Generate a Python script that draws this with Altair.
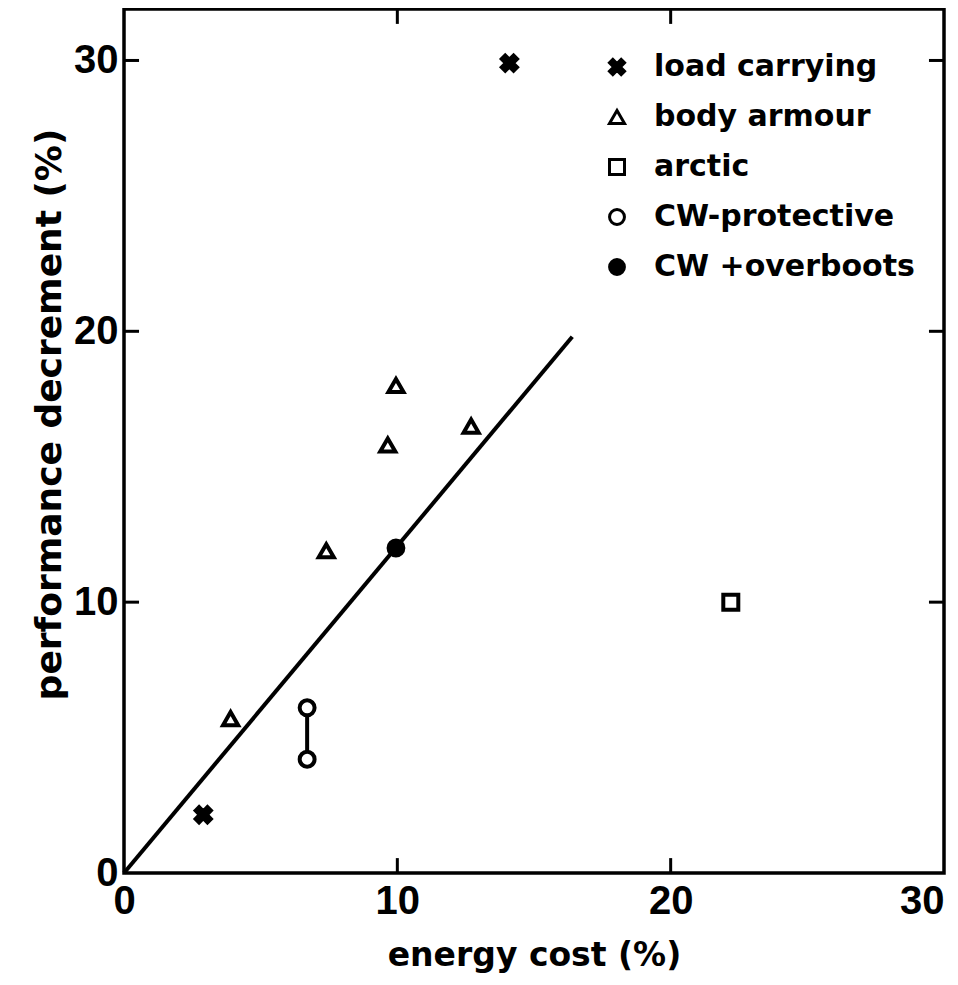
import altair as alt
import pandas as pd

# ---- data ----
categories = ["load carrying", "body armour", "arctic", "CW-protective", "CW +overboots"]

load_x = [2.9, 14.1]
load_y = [2.15, 29.9]
armour_x = [3.9, 7.4, 9.65, 9.95, 12.7]
armour_y = [5.7, 11.9, 15.8, 18.0, 16.5]
arctic_x = [22.2]
arctic_y = [10.0]
cw_x = [6.7, 6.7]
cw_y = [4.2, 6.1]
cwb_x = [9.95]
cwb_y = [12.0]

fit_x = [0.0, 16.4]
fit_y = [0.0, 19.8]

tick_values = [0, 10, 20, 30]
inner_ticks_x = [10, 20]
inner_ticks_y = [10, 20, 30]

X_MAX = 30
Y_MAX = 31.9
TL = 0.55  # inward tick length in data units

rows = []
for c, xs, ys in [
    (categories[0], load_x, load_y),
    (categories[1], armour_x, armour_y),
    (categories[2], arctic_x, arctic_y),
    (categories[3], cw_x, cw_y),
    (categories[4], cwb_x, cwb_y),
]:
    for a, b in zip(xs, ys):
        rows.append({"x": a, "y": b, "cond": c})
pts = pd.DataFrame(rows)

xs_ = alt.Scale(domain=[0, X_MAX], nice=False, zero=False)
ys_ = alt.Scale(domain=[0, Y_MAX], nice=False, zero=False)

FONT = "DejaVu Sans"
TFONT = "Liberation Sans"

star = "M-1,-0.55L-0.55,-1L0,-0.45L0.55,-1L1,-0.55L0.45,0L1,0.55L0.55,1L0,0.45L-0.55,1L-1,0.55L-0.45,0Z"

x_enc = alt.X("x:Q", scale=xs_, axis=alt.Axis(
    values=tick_values, title="energy cost (%)", ticks=False, domain=False, grid=False,
    labelFont=TFONT, labelFontSize=40, labelFontWeight="bold", labelColor="black",
    labelPadding=8, labelFlush=False,
    labelAlign={"expr": "datum.value == 30 ? 'right' : 'center'"},
    titleFont=FONT, titleFontSize=33, titleFontWeight="bold", titleColor="black",
    titleY=92, titleBaseline="alphabetic"))
y_enc = alt.Y("y:Q", scale=ys_, axis=alt.Axis(
    values=tick_values, title="performance decrement (%)", ticks=False, domain=False, grid=False,
    labelFont=TFONT, labelFontSize=40, labelFontWeight="bold", labelColor="black",
    labelPadding=6, labelFlush=False,
    titleFont=FONT, titleFontSize=36, titleFontWeight="bold", titleColor="black",
    titleX=-64, titleY=405, titleBaseline="alphabetic", titleAngle=270))

fit = alt.Chart(pd.DataFrame({"x": fit_x, "y": fit_y})).mark_line(
    color="black", strokeWidth=4).encode(x=x_enc, y=y_enc)

cw_link = alt.Chart(pd.DataFrame({"x": [cw_x[0]], "y": [min(cw_y)], "y2": [max(cw_y)]})).mark_rule(
    color="black", strokeWidth=4).encode(x=alt.X("x:Q", scale=xs_), y=alt.Y("y:Q", scale=ys_), y2="y2:Q")

leg = alt.Legend(title=None, orient="none", legendX=478, legendY=43,
                 labelFont=FONT, labelFontSize=30, labelFontWeight="bold", labelLimit=0,
                 labelColor="black", rowPadding=20, labelOffset=22,
                 symbolStrokeWidth=3, symbolStrokeColor="black", padding=0)

points = alt.Chart(pts).mark_point(
    filled=False, strokeWidth=4, opacity=1).encode(
    x=alt.X("x:Q", scale=xs_),
    y=alt.Y("y:Q", scale=ys_),
    shape=alt.Shape("cond:N", scale=alt.Scale(domain=categories,
                    range=[star, "triangle-up", "square", "circle", "circle"]), legend=leg),
    fill=alt.Fill("cond:N", scale=alt.Scale(domain=categories,
                  range=["black", "white", "white", "white", "black"]), legend=leg),
    stroke=alt.Stroke("cond:N", scale=alt.Scale(domain=categories,
                      range=["black", "black", "black", "black", "black"]), legend=leg),
    size=alt.Size("cond:N", scale=alt.Scale(domain=categories, range=[230, 220, 340, 190, 220]),
                  legend=leg),
)

# inward ticks on all four sides of the frame
tb = []
for v in inner_ticks_x:
    tb.append({"x": v, "x2": v, "y": 0, "y2": TL})
    tb.append({"x": v, "x2": v, "y": Y_MAX, "y2": Y_MAX - TL})
for v in inner_ticks_y:
    tb.append({"x": 0, "x2": TL, "y": v, "y2": v})
    tb.append({"x": X_MAX, "x2": X_MAX - TL, "y": v, "y2": v})
ticks = alt.Chart(pd.DataFrame(tb)).mark_rule(color="black", strokeWidth=3).encode(
    x=alt.X("x:Q", scale=xs_), x2="x2:Q", y=alt.Y("y:Q", scale=ys_), y2="y2:Q")

chart = alt.layer(fit, cw_link, ticks, points).properties(
    width=820, height=864,
    background="white",
    autosize=alt.AutoSizeParams(type="none"),
    padding={"left": 116, "top": 1, "right": 6, "bottom": 100},
).configure_view(stroke="black", strokeWidth=3.5)

chart.save("out.html", embed_options={"renderer": "svg", "actions": False})
